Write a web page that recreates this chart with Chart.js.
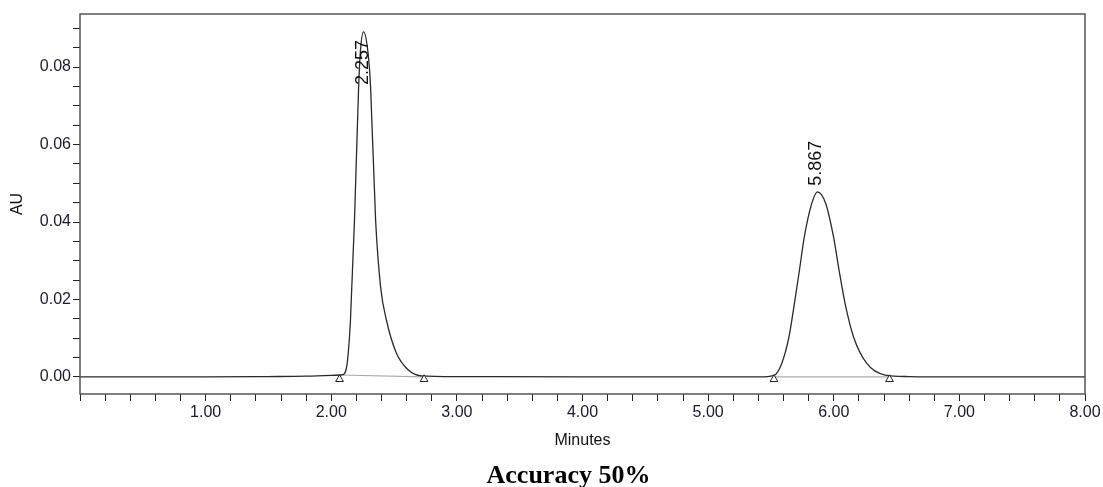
<!DOCTYPE html>
<html>
<head>
<meta charset="utf-8">
<script src="https://cdn.jsdelivr.net/npm/chart.js@4"></script>
<style>
  html, body { margin: 0; padding: 0; background: #fff; }
  #wrap { width: 1103px; height: 487px; }
</style>
</head>
<body>
<div id="wrap"><canvas id="chromChart"></canvas></div>
<script>
// retention time (min) and detector response (AU)
const times = [0, 0.5, 1.0, 1.5, 1.8, 2.0, 2.07, 2.093, 2.127, 2.153, 2.185, 2.218, 2.231, 2.257, 2.293,
  2.313, 2.353, 2.393, 2.439, 2.518, 2.614, 2.717, 3.0, 4.0, 5.0, 5.4, 5.524, 5.586, 5.644, 5.687, 5.727,
  5.766, 5.825, 5.870, 5.936, 5.998, 6.042, 6.090, 6.157, 6.263, 6.409, 6.6, 7.0, 8.0];
const response = [0, 0, 0, 0.0001, 0.0002, 0.0004, 0.0005, 0.0006, 0.0036, 0.0147, 0.0405, 0.0749, 0.0836, 0.0891, 0.0836,
  0.0749, 0.0405, 0.0232, 0.0147, 0.0062, 0.0018, 0.0003, 0.0001, 0, 0, 0, 0.0004, 0.0035, 0.0104, 0.0190, 0.0276,
  0.0362, 0.0448, 0.0478, 0.0448, 0.0362, 0.0276, 0.0190, 0.0104, 0.0035, 0.0005, 0.0001, 0, 0];

// integration start/end markers
const markerTimes = [2.066, 2.739, 5.524, 6.444];
const markerLevel = -0.0006;

// peak labels
const peakTimes = [2.257, 5.867];
const peakHeights = [0.0891, 0.0478];
const peakLabels = ['2.257', '5.867'];

// axis ticks
const yLabelTicks = [0, 0.02, 0.04, 0.06, 0.08];
const xLabelTicks = [1, 2, 3, 4, 5, 6, 7, 8];

const chartTitle = 'Accuracy 50%';

const traceData = times.map((t, i) => ({ x: t, y: response[i] }));
const markerData = markerTimes.map(t => ({ x: t, y: markerLevel }));
const base1 = [{ x: markerTimes[0], y: 0.0005 }, { x: markerTimes[1], y: 0 }];
const base2 = [{ x: markerTimes[2], y: 0 }, { x: markerTimes[3], y: 0 }];

const inList = (list, v) => list.some(a => Math.abs(a - v) < 1e-6);

// frame around the plot, rotated peak labels and the caption underneath
const framePlugin = {
  id: 'frame',
  afterDatasetsDraw(chart) {
    const { ctx, chartArea: a, scales } = chart;
    ctx.save();
    ctx.strokeStyle = '#555';
    ctx.lineWidth = 1.5;
    ctx.strokeRect(a.left, a.top, a.right - a.left, a.bottom - a.top);

    ctx.font = '18px "Liberation Sans", Arial, sans-serif';
    ctx.fillStyle = '#111';
    ctx.textBaseline = 'middle';
    ctx.textAlign = 'left';
    peakTimes.forEach((t, i) => {
      const px = scales.x.getPixelForValue(t) - 1;
      const w = ctx.measureText(peakLabels[i]).width;
      let py = scales.y.getPixelForValue(peakHeights[i]) - 6;
      py = Math.max(py, a.top + 26 + w);
      ctx.save();
      ctx.translate(px, py);
      ctx.rotate(-Math.PI / 2);
      ctx.fillText(peakLabels[i], 0, 0);
      ctx.restore();
    });

    // caption
    ctx.font = 'bold 26px "Liberation Serif", "Times New Roman", serif';
    ctx.fillStyle = '#000';
    ctx.textAlign = 'center';
    ctx.textBaseline = 'alphabetic';
    ctx.fillText(chartTitle, (a.left + a.right) / 2 - 14, chart.height - 4);
    ctx.restore();
  }
};

const tickFont = { family: '"Liberation Sans", Arial, sans-serif', size: 16 };

new Chart(document.getElementById('chromChart').getContext('2d'), {
  type: 'line',
  data: {
    datasets: [
      {
        label: 'Trace',
        data: traceData,
        borderColor: '#2a2a2a',
        borderWidth: 1.3,
        cubicInterpolationMode: 'monotone',
        pointRadius: 0,
        fill: false,
        order: 1
      },
      {
        label: 'Baseline 1',
        data: base1,
        borderColor: '#aaa',
        borderWidth: 1.2,
        pointRadius: 0,
        order: 2
      },
      {
        label: 'Baseline 2',
        data: base2,
        borderColor: '#aaa',
        borderWidth: 1.2,
        pointRadius: 0,
        order: 2
      },
      {
        label: 'Markers',
        data: markerData,
        showLine: false,
        pointStyle: 'triangle',
        pointRadius: 4.5,
        pointBackgroundColor: '#fff',
        pointBorderColor: '#222',
        pointBorderWidth: 1,
        order: 0
      }
    ]
  },
  plugins: [framePlugin],
  options: {
    responsive: true,
    maintainAspectRatio: false,
    animation: false,
    layout: { padding: { left: 8, right: 18, top: 14, bottom: 37 } },
    plugins: {
      legend: { display: false },
      tooltip: { enabled: false },
      title: { display: false }
    },
    scales: {
      x: {
        type: 'linear',
        min: 0,
        max: 8,
        afterFit(scale) { scale.height = 56; },
        border: { display: false },
        grid: { drawOnChartArea: false, tickLength: 7, color: '#222', tickWidth: 1 },
        ticks: {
          stepSize: 0.2,
          autoSkip: false,
          maxRotation: 0,
          padding: 2,
          color: '#1a1a2a',
          font: tickFont,
          callback: v => inList(xLabelTicks, v) ? v.toFixed(2) : ''
        },
        title: { display: true, text: 'Minutes', color: '#111', font: tickFont, padding: { top: 4, bottom: 0 } }
      },
      y: {
        min: -0.0044,
        max: 0.0937,
        afterFit(scale) { scale.width = 72; },
        border: { display: false },
        grid: { drawOnChartArea: false, tickLength: 7, color: '#222', tickWidth: 1 },
        ticks: {
          stepSize: 0.005,
          includeBounds: false,
          autoSkip: false,
          padding: 2,
          color: '#1a1a2a',
          font: tickFont,
          callback: v => inList(yLabelTicks, v) ? v.toFixed(2) : ''
        },
        title: { display: true, text: 'AU', color: '#111', font: tickFont, padding: { top: 0, bottom: 4 } }
      }
    }
  }
});
</script>
</body>
</html>
